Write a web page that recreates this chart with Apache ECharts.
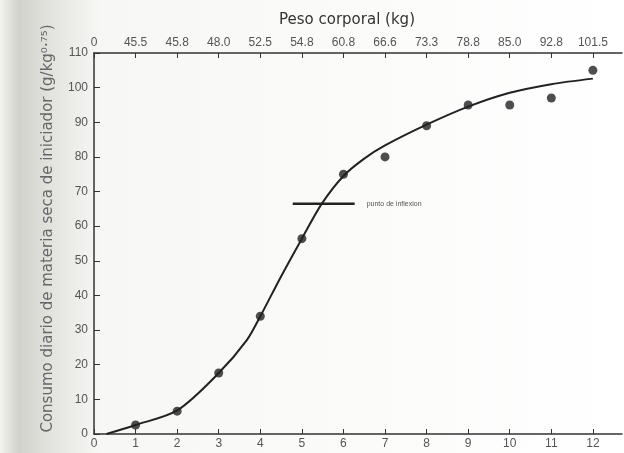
<!DOCTYPE html>
<html><head><meta charset="utf-8">
<script src="https://cdn.jsdelivr.net/npm/echarts@6/dist/echarts.min.js"></script>
<style>html,body{margin:0;padding:0;background:#fff}#c{width:624px;height:453px}</style>
</head><body><div id="c"></div>
<script>
// Observed data points (age, intake)
const pointX = [1, 2, 3, 4, 5, 6, 7, 8, 9, 10, 11, 12];
const pointY = [2.6, 6.6, 17.6, 34, 56.4, 75, 80, 89, 95, 95, 97, 105];
// Fitted curve
const curveX = [0.3, 1, 2, 3, 3.68, 4, 4.5, 5, 5.48, 6, 6.5, 7, 8, 9, 10, 11, 12];
const curveY = [0, 2.6, 6.8, 17.6, 27.2, 34, 45.5, 56.4, 66.5, 74.5, 79.5, 83.3, 89.3, 94.5, 98.5, 101, 102.6];
// Inflection marker
const inflX = [4.78, 6.27];
const inflY = [66.5, 66.5];
const inflLabel = 'punto de inflexion';
// Top axis labels (body weight, kg)
const weightLabels = ['0','45.5','45.8','48.0','52.5','54.8','60.8','66.6','73.3','78.8','85.0','92.8','101.5'];

const chart = echarts.init(document.getElementById('c'));
const axisCol = '#333';
const labCol = '#555';
chart.setOption({
  backgroundColor: {
    type: 'linear', x: 0, y: 0, x2: 1, y2: 0,
    colorStops: [
      {offset: 0, color: '#f4f4f0'},
      {offset: 0.03, color: '#d2d2cc'},
      {offset: 0.08, color: '#e2e2de'},
      {offset: 0.16, color: '#f7f7f5'},
      {offset: 1, color: '#ffffff'}
    ]
  },
  animation: false,
  title: {
    text: 'Peso corporal (kg)', left: 342, top: 8, textAlign: 'center',
    textStyle: {fontFamily: 'DejaVu Sans', fontSize: 15, fontWeight: 'normal', color: '#333'}
  },
  grid: {left: 94, right: 2, top: 53, bottom: 19},
  xAxis: [{
    type: 'value', position: 'bottom', min: 0, max: 12.7, interval: 1,
    axisLine: {lineStyle: {color: axisCol, width: 1.5}},
    axisTick: {inside: true, length: 5, lineStyle: {color: axisCol}},
    axisLabel: {color: labCol, fontSize: 12, fontFamily: 'Liberation Sans', margin: 4, showMaxLabel: false},
    splitLine: {show: false}
  }, {
    type: 'value', position: 'top', min: 0, max: 12.7, interval: 1,
    axisLine: {lineStyle: {color: axisCol, width: 1.5}},
    axisTick: {inside: true, length: 5, lineStyle: {color: axisCol}},
    axisLabel: {color: labCol, fontSize: 12, fontFamily: 'Liberation Sans', margin: 4, showMaxLabel: false,
      formatter: v => weightLabels[Math.round(v)] !== undefined ? weightLabels[Math.round(v)] : ''},
    splitLine: {show: false}
  }],
  yAxis: {
    type: 'value', min: 0, max: 110, interval: 10,
    name: 'Consumo diario de materia seca de iniciador (g/kg\u2070\u00b7\u2077\u2075)',
    nameLocation: 'middle', nameGap: 38, nameRotate: 90,
    nameTextStyle: {color: '#666', fontSize: 15, fontFamily: 'DejaVu Sans', padding: [0, 0, 0, 30]},
    axisLine: {lineStyle: {color: axisCol, width: 1.5}},
    axisTick: {inside: true, length: 6, lineStyle: {color: axisCol}},
    axisLabel: {color: labCol, fontSize: 12, fontFamily: 'Liberation Sans', margin: 6},
    splitLine: {show: false}
  },
  series: [{
    type: 'line', smooth: 0.3, symbol: 'none',
    data: curveX.map((x, i) => [x, curveY[i]]),
    lineStyle: {color: '#222', width: 2}
  }, {
    type: 'scatter', symbolSize: 9,
    data: pointX.map((x, i) => [x, pointY[i]]),
    itemStyle: {color: '#222'}
  }, {
    type: 'line', symbol: 'none',
    data: inflX.map((x, i) => [x, inflY[i]]),
    lineStyle: {color: '#222', width: 2.5},
    endLabel: {show: true, formatter: inflLabel, color: '#555', fontSize: 7, fontFamily: 'Liberation Sans', distance: 12}
  }]
});
</script></body></html>
